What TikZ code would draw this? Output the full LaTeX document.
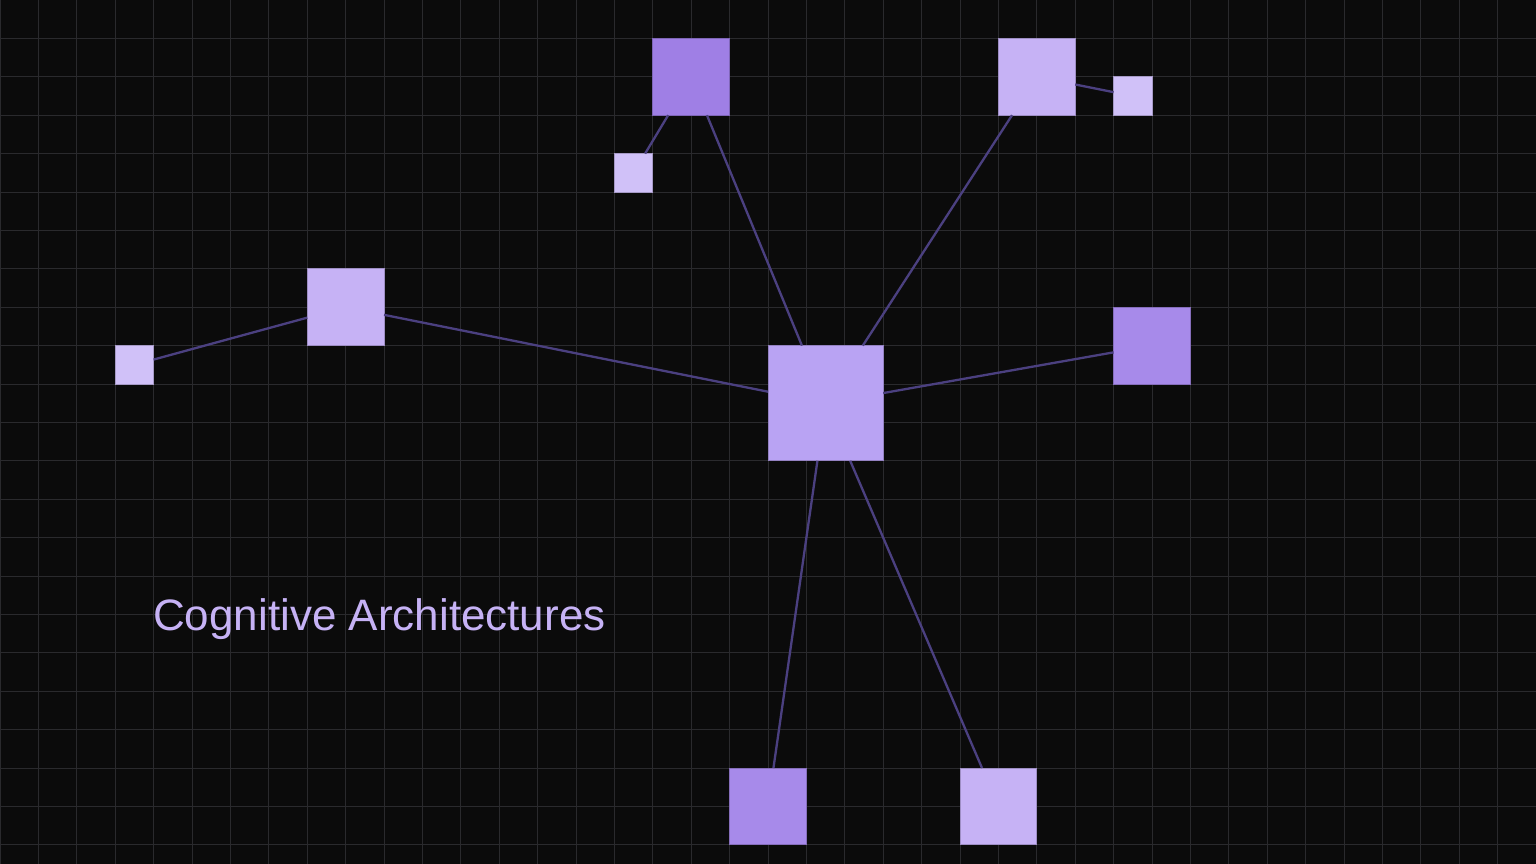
\documentclass[tikz,border=0pt]{standalone}
\usepackage{fontspec}
\setmainfont{Liberation Sans}
\definecolor{bgc}{HTML}{0B0B0B}
\definecolor{gridc}{HTML}{2A2A2D}
\definecolor{linkc}{HTML}{4B4080}
\definecolor{pdeep}{HTML}{9F7FE5}
\definecolor{pmid}{HTML}{A78AEA}
\definecolor{pcent}{HTML}{B9A3F3}
\definecolor{plight}{HTML}{C6B2F5}
\definecolor{ppale}{HTML}{D0C1F8}
\definecolor{txtc}{HTML}{C6B2F5}
\begin{document}
\begin{tikzpicture}[x=1pt,y=-1pt,
  sq/.style={draw=#1!80!black, line width=0.8pt, fill=#1, inner sep=0pt, outer sep=0pt, anchor=north west},
  link/.style={draw=linkc, line width=2.3pt}]
\fill[bgc] (0,0) rectangle (1536,864);
\useasboundingbox (0,0) rectangle (1536,864);
\foreach \i in {0,...,40} {\draw[gridc, line width=1pt] (\i*38.4,0) -- (\i*38.4,864);}
\foreach \j in {0,...,22} {\draw[gridc, line width=1pt] (0,\j*38.4) -- (1536,\j*38.4);}
% nodes
\node[sq=pcent, minimum size=115.2pt] (c) at (768,345.6) {};
\node[sq=pdeep, minimum size=76.8pt] (t) at (652.8,38.4) {};
\node[sq=ppale, minimum size=38.4pt] (ts) at (614.4,153.6) {};
\node[sq=plight, minimum size=76.8pt] (tr) at (998.4,38.4) {};
\node[sq=ppale, minimum size=38.4pt] (trs) at (1113.6,76.8) {};
\node[sq=plight, minimum size=76.8pt] (l) at (307.2,268.8) {};
\node[sq=ppale, minimum size=38.4pt] (ls) at (115.2,345.6) {};
\node[sq=pmid, minimum size=76.8pt] (r) at (1113.6,307.2) {};
\node[sq=pmid, minimum size=76.8pt] (bl) at (729.6,768) {};
\node[sq=plight, minimum size=76.8pt] (br) at (960,768) {};
% links
\draw[link] (c) -- (t);
\draw[link] (t) -- (ts);
\draw[link] (c) -- (tr);
\draw[link] (tr) -- (trs);
\draw[link] (c) -- (l);
\draw[link] (l) -- (ls);
\draw[link] (c) -- (r);
\draw[link] (c) -- (bl);
\draw[link] (c) -- (br);
% label
\node[anchor=base west, inner sep=0pt, text=txtc, font=\fontsize{44}{50}\selectfont] (title) at (153,630) {Cognitive Architectures};
\end{tikzpicture}
\end{document}
